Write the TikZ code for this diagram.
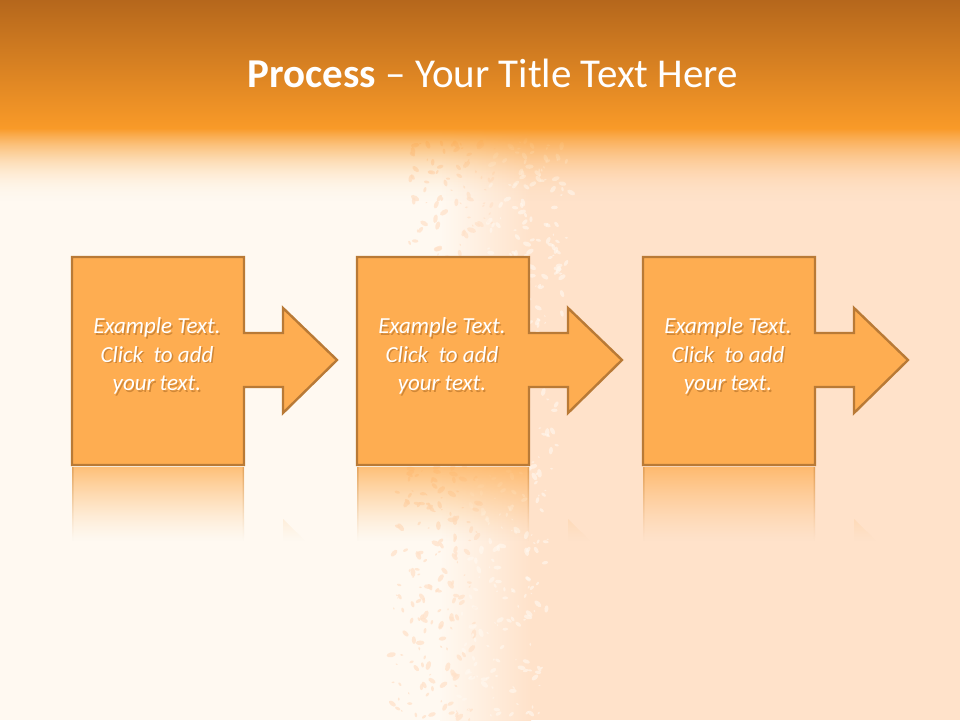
\documentclass[tikz,border=0pt]{standalone}
\usepackage{fontspec}
\setmainfont{Carlito}
\definecolor{bandtop}{HTML}{B5671C}
\definecolor{bandbot}{HTML}{F99A28}
\definecolor{cream}{HTML}{FFF9F1}
\definecolor{peach}{HTML}{FFE2CA}
\definecolor{boxfill}{HTML}{FEAD51}
\definecolor{boxline}{HTML}{B97A36}
\definecolor{txtshadow}{HTML}{9A5A18}
\begin{document}
\begin{tikzpicture}[x=1pt,y=-1pt,
  procshape/.style={fill=boxfill, draw=boxline, line width=2.4pt, line join=miter},
  bodytext/.style={text=white, align=center, inner sep=0pt,
     font=\fontsize{23}{28.5}\selectfont\itshape},
  bodyshadow/.style={bodytext, text=txtshadow, text opacity=0.45},
  titletext/.style={text=white, inner sep=0pt, anchor=base,
     font=\fontsize{41}{49}\selectfont}]
\useasboundingbox (0,0) rectangle (960,720);
% background
\fill[cream] (0,0) rectangle (960,720);
\fill[peach] (530,0) rectangle (960,720);
\shade[left color=cream, right color=peach] (440,0) rectangle (531,720);
% splatter
\pgfmathsetseed{42}
\foreach \i in {1,...,380}{
  \pgfmathsetmacro\yy{140+580*rnd}
  \pgfmathsetmacro\xx{410+85*rnd-0.04*(\yy-140)}
  \pgfmathsetmacro\rr{0.6+2.2*rnd}
  \pgfmathsetmacro\ang{180*rnd}
  \fill[peach, opacity=0.75] (\xx,\yy) ellipse [x radius=1.7*\rr pt, y radius=0.9*\rr pt, rotate=\ang];
}
\foreach \i in {1,...,380}{
  \pgfmathsetmacro\yy{140+580*rnd}
  \pgfmathsetmacro\xx{490+85*rnd-0.06*(\yy-140)}
  \pgfmathsetmacro\rr{0.6+2.0*rnd}
  \pgfmathsetmacro\ang{180*rnd}
  \fill[cream, opacity=0.6] (\xx,\yy) ellipse [x radius=1.7*\rr pt, y radius=0.9*\rr pt, rotate=\ang];
}
% title band and its soft lower edge
\foreach \k in {0,...,76}{
  \pgfmathsetmacro\op{(1-\k/77)^2.2}
  \fill[bandbot, opacity=\op] (0,128+\k) rectangle (960,129+\k);
}
\shade[top color=bandtop, bottom color=bandbot] (0,0) rectangle (960,128);
\node[titletext] (title) at (493,87) {\textbf{Process} – Your Title Text Here};
% process boxes
\foreach \x/\n in {72/1,357/2,643/3}{
  \begin{scope}
    \clip (\x,467) -- (\x+172,467) -- (\x+172,545) -- (\x+211,545) -- (\x+211,519)
      -- (\x+265,572) -- (\x+211,624) -- (\x+211,599) -- (\x+172,599)
      -- (\x+172,675) -- (\x,675) -- cycle;
    \foreach \k in {0,...,74}{
      \pgfmathsetmacro\op{0.75*(1-\k/75)^1.4}
      \fill[boxfill, opacity=\op] (\x-5,467+\k) rectangle (\x+270,468+\k);
      \fill[boxline, opacity=0.5*\op] (\x,467+\k) rectangle (\x+1.5,468+\k)
        (\x+170.5,467+\k) rectangle (\x+172,468+\k);
    }
  \end{scope}
  \draw[procshape] (\x,257) -- ++(172,0) -- ++(0,76) -- ++(39,0) -- ++(0,-25)
     -- ++(54,52) -- ++(-54,53) -- ++(0,-26) -- ++(-39,0) -- (\x+172,465)
     -- (\x,465) -- cycle;
  \node[bodyshadow] (shadow\n) at (\x+86.5,357.8) {Example Text.\\Click\ \ to add\\your text.};
  \node[bodytext] (text\n) at (\x+85,356) {Example Text.\\Click\ \ to add\\your text.};
}
\end{tikzpicture}
\end{document}
